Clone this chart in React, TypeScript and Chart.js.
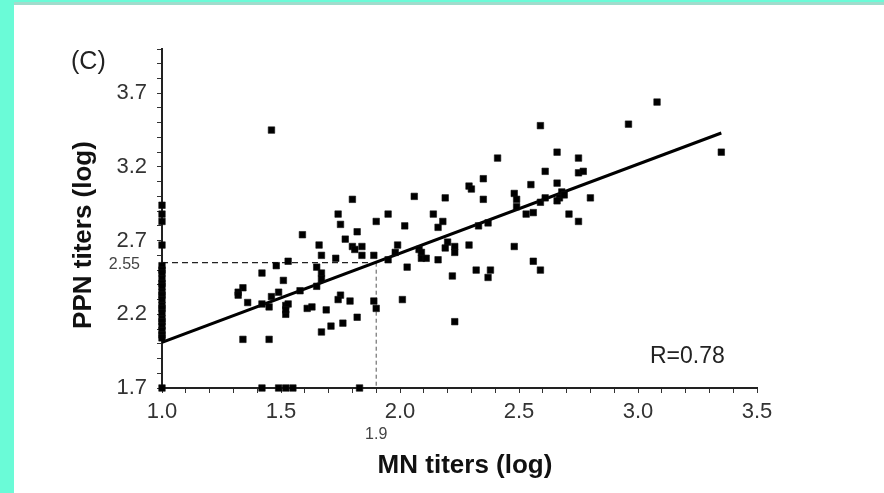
import React, { useEffect, useRef } from 'react';
import { Chart, registerables } from 'chart.js';

Chart.register(...registerables);

// ---- Data ----
const mnTiters: number[] = [
  // on the y-axis (MN = 1.0)
  1.0, 1.0, 1.0, 1.0, 1.0, 1.0, 1.0, 1.0, 1.0, 1.0, 1.0, 1.0, 1.0, 1.0, 1.0, 1.0, 1.0, 1.0, 1.0, 1.0, 1.0, 1.0, 1.0,
  // scattered points
  1.46, 1.80, 2.06, 1.74, 1.75, 1.82, 1.90, 1.95, 2.02, 2.14, 2.16, 2.18, 1.59, 1.77, 2.19,
  3.08, 2.96, 3.35, 2.59, 2.41, 2.66, 2.75, 2.35, 2.61, 2.75, 2.77, 2.29, 2.30, 2.55, 2.66,
  2.35, 2.48, 2.49, 2.49, 2.68, 2.67, 2.66, 2.69, 2.59, 2.61, 2.80, 2.53, 2.56, 2.71, 2.75,
  2.33, 2.37, 2.20, 2.19, 2.23, 2.23, 2.29, 2.48, 2.56, 2.59, 2.22, 2.32, 2.38, 2.37, 2.23,
  1.34, 1.32, 1.32, 1.36, 1.34, 1.45, 1.42, 1.48, 1.53, 1.51, 1.42, 1.45, 1.46, 1.49, 1.52,
  1.53, 1.52, 1.52, 1.58, 1.61, 1.63, 1.66, 1.65, 1.67, 1.67, 1.65, 1.67, 1.69, 1.67, 1.71,
  1.76, 1.73, 1.80, 1.81, 1.84, 1.84, 1.75, 1.74, 1.79, 1.82, 1.89, 1.89, 1.90, 1.99, 1.98,
  1.95, 2.03, 2.01, 2.08, 2.09, 2.09, 2.11, 2.16,
  // on the x-axis (PPN = 1.7)
  1.42, 1.49, 1.52, 1.55, 1.83,
];

const ppnTiters: number[] = [
  2.94, 2.88, 2.83, 2.67, 2.53, 2.50, 2.48, 2.44, 2.41, 2.39, 2.35, 2.33, 2.30, 2.26, 2.24, 2.21, 2.17, 2.15, 2.12, 2.09, 2.06, 2.04, 1.70,
  3.45, 2.98, 3.00, 2.88, 2.81, 2.76, 2.83, 2.88, 2.80, 2.88, 2.79, 2.83, 2.74, 2.71, 2.99,
  3.64, 3.49, 3.30, 3.48, 3.26, 3.30, 3.26, 3.12, 3.17, 3.16, 3.17, 3.07, 3.05, 3.08, 3.09,
  2.98, 3.02, 2.98, 2.93, 3.03, 2.99, 2.97, 3.01, 2.96, 2.99, 2.99, 2.88, 2.89, 2.88, 2.83,
  2.80, 2.82, 2.69, 2.65, 2.66, 2.62, 2.67, 2.66, 2.56, 2.50, 2.46, 2.50, 2.50, 2.45, 2.15,
  2.38, 2.35, 2.33, 2.28, 2.03, 2.03, 2.48, 2.53, 2.56, 2.43, 2.27, 2.25, 2.32, 2.35, 2.26,
  2.27, 2.20, 2.23, 2.36, 2.24, 2.25, 2.67, 2.52, 2.48, 2.44, 2.39, 2.60, 2.23, 2.08, 2.12,
  2.14, 2.58, 2.66, 2.64, 2.66, 2.60, 2.33, 2.30, 2.29, 2.18, 2.60, 2.29, 2.24, 2.67, 2.62,
  2.57, 2.52, 2.30, 2.64, 2.62, 2.58, 2.58, 2.57,
  1.70, 1.70, 1.70, 1.70, 1.70,
];

// regression line end points
const fitX: number[] = [1.0, 3.35];
const fitY: number[] = [2.01, 3.43];

// reference (dashed) lines
const refX = 1.9;
const refY = 2.55;

const xTickLabels: string[] = ['1.0', '1.5', '2.0', '2.5', '3.0', '3.5'];
const yTickLabels: string[] = ['1.7', '2.2', '2.7', '3.2', '3.7'];
const xTitle = 'MN titers (log)';
const yTitle = 'PPN titers (log)';
const panelLabel = '(C)';
const rLabel = 'R=0.78';

const X_MIN = 1.0, X_MAX = 3.5, Y_MIN = 1.7, Y_MAX = 4.0, MINOR = 0.1;

function minorTicks(min: number, max: number): { value: number }[] {
  const out: { value: number }[] = [];
  const n = Math.round((max - min) / MINOR);
  for (let i = 0; i <= n; i++) out.push({ value: Math.round((min + i * MINOR) * 10) / 10 });
  return out;
}

const FONT = '"Liberation Sans", Arial, Helvetica, sans-serif';

const textPlugin = {
  id: 'textPlugin',
  afterDraw(chart: any) {
    const { ctx, scales } = chart;
    const x = scales.x, y = scales.y;
    ctx.save();
    ctx.fillStyle = '#222';
    ctx.textBaseline = 'middle';

    ctx.font = `25px ${FONT}`;
    ctx.textAlign = 'left';
    ctx.fillText(panelLabel, 71, 62);

    ctx.font = `23px ${FONT}`;
    ctx.fillText(rLabel, 650, 357);

    ctx.fillStyle = '#444';
    ctx.font = `16px ${FONT}`;
    ctx.textAlign = 'right';
    ctx.fillText(refY.toFixed(2), 140, y.getPixelForValue(refY) + 2);
    ctx.textAlign = 'center';
    ctx.fillText(refX.toFixed(1), x.getPixelForValue(refX), 435);

    ctx.fillStyle = '#111';
    ctx.font = `bold 26px ${FONT}`;
    ctx.textAlign = 'center';
    ctx.fillText(xTitle, 465, 466);
    ctx.translate(84, 235);
    ctx.rotate(-Math.PI / 2);
    ctx.fillText(yTitle, 0, 0);
    ctx.restore();
  },
};

export default function App() {
  const ref = useRef<HTMLCanvasElement | null>(null);

  useEffect(() => {
    if (!ref.current) return;
    const points = mnTiters.map((v, i) => ({ x: v, y: ppnTiters[i] }));
    const fit = fitX.map((v, i) => ({ x: v, y: fitY[i] }));

    const chart = new Chart(ref.current, {
      type: 'scatter',
      data: {
        datasets: [
          {
            label: 'samples',
            data: points,
            pointStyle: 'rect',
            pointRadius: 4.6,
            pointBackgroundColor: '#000',
            pointBorderColor: '#111',
            pointBorderWidth: 0.6,
            clip: false,
          } as any,
          {
            label: 'fit',
            data: fit,
            showLine: true,
            borderColor: '#000',
            borderWidth: 3,
            pointRadius: 0,
          } as any,
          {
            label: 'h-ref',
            data: [{ x: X_MIN, y: refY }, { x: refX, y: refY }],
            showLine: true,
            borderColor: '#222',
            borderWidth: 1.2,
            borderDash: [6, 4],
            pointRadius: 0,
          } as any,
          {
            label: 'v-ref',
            data: [{ x: refX, y: refY }, { x: refX, y: Y_MIN }],
            showLine: true,
            borderColor: '#555',
            borderWidth: 1,
            borderDash: [4, 3],
            pointRadius: 0,
          } as any,
        ],
      },
      options: {
        animation: false,
        responsive: true,
        maintainAspectRatio: false,
        layout: { padding: { left: 0, top: 49, right: 127, bottom: 0 } },
        plugins: { legend: { display: false }, tooltip: { enabled: false }, title: { display: false } },
        scales: {
          x: {
            type: 'linear',
            min: X_MIN,
            max: X_MAX,
            afterBuildTicks: (s: any) => { s.ticks = minorTicks(X_MIN, X_MAX); },
            afterFit: (s: any) => { s.height = 105; },
            ticks: {
              autoSkip: false,
              maxRotation: 0,
              padding: 6,
              color: '#333',
              font: { family: FONT, size: 22 },
              callback: (v: any) => { const l = Number(v).toFixed(1); return xTickLabels.includes(l) ? l : ''; },
            },
            grid: { display: true, drawOnChartArea: false, drawTicks: true, tickLength: 5, color: '#333', lineWidth: 1 },
            border: { display: true, color: '#222', width: 2 },
          },
          y: {
            type: 'linear',
            min: Y_MIN,
            max: Y_MAX,
            afterBuildTicks: (s: any) => { s.ticks = minorTicks(Y_MIN, Y_MAX); },
            afterFit: (s: any) => { s.width = 162; },
            ticks: {
              autoSkip: false,
              padding: 10,
              color: '#333',
              font: { family: FONT, size: 22 },
              callback: (v: any) => { const l = Number(v).toFixed(1); return yTickLabels.includes(l) ? l : ''; },
            },
            grid: { display: true, drawOnChartArea: false, drawTicks: true, tickLength: 5, color: '#333', lineWidth: 1 },
            border: { display: true, color: '#222', width: 2 },
          },
        },
      },
      plugins: [textPlugin],
    } as any);
    return () => chart.destroy();
  }, []);

  return (
    <div style={{ position: 'fixed', left: 0, top: 0, width: 884, height: 493, background: '#fff', overflow: 'hidden' }}>
      <div style={{ position: 'absolute', left: 0, top: 0, width: 14, height: 493, background: '#6afbd7' }} />
      <div style={{ position: 'absolute', left: 0, top: 0, width: 884, height: 2, background: '#6afbd7' }} />
      <div style={{ position: 'absolute', left: 14, top: 2, width: 870, height: 3, background: '#a0dccc' }} />
      <div style={{ position: 'absolute', left: 0, top: 0, width: 884, height: 493 }}>
        <canvas ref={ref} />
      </div>
    </div>
  );
}
